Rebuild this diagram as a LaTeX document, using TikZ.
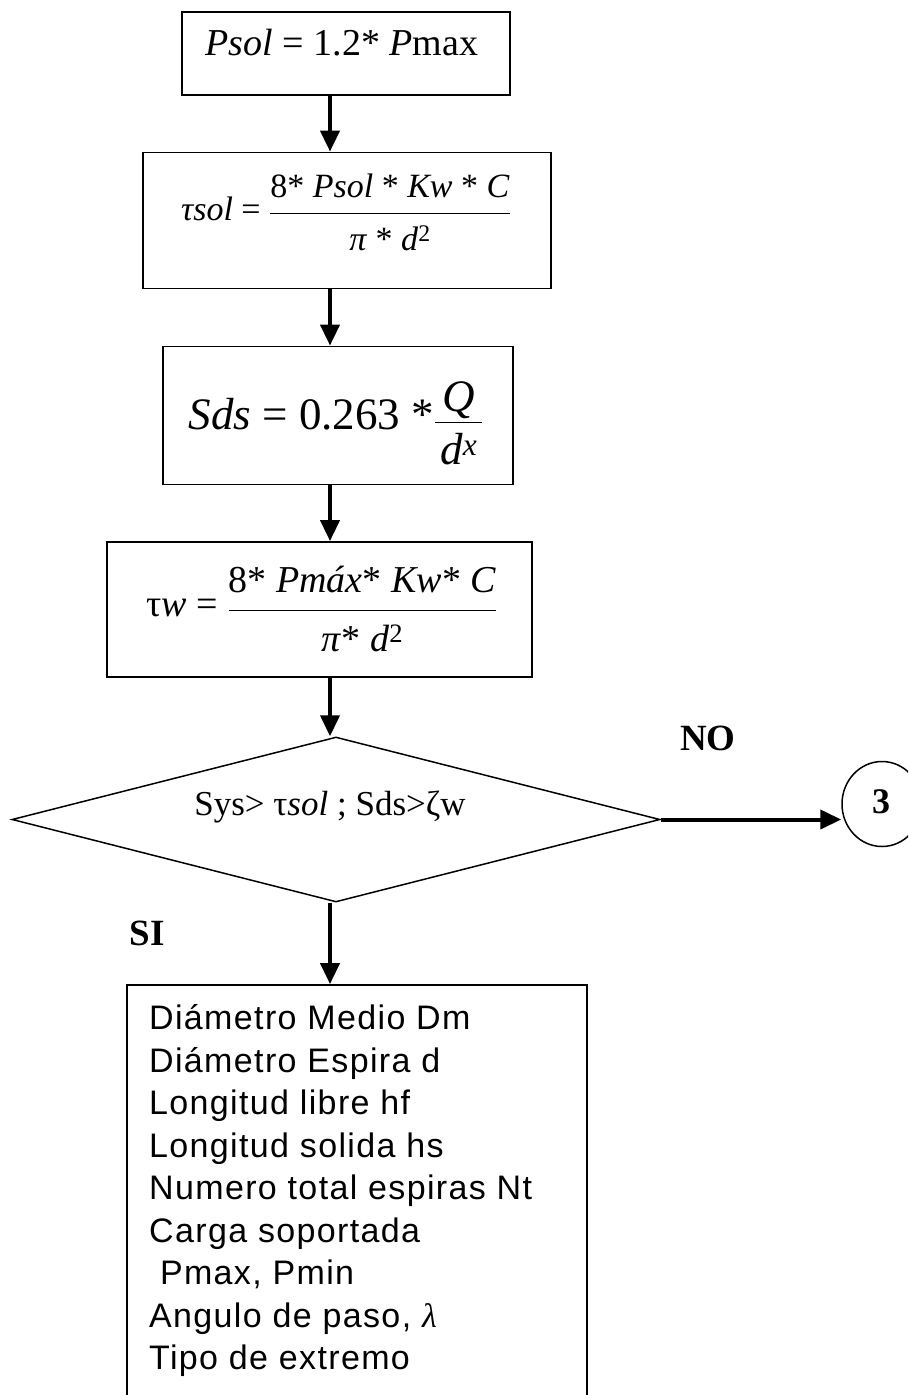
\documentclass[tikz,border=0pt]{standalone}
\usepackage{amsmath}
\usepackage{fontspec}
\setmainfont{Liberation Serif}
\newfontfamily\arialf[LetterSpace=4]{Liberation Sans}
\usetikzlibrary{shapes.geometric,arrows.meta}
\begin{document}
\begin{tikzpicture}[x=1pt,y=-1pt,
  procbox/.style={draw,line width=1.8pt,inner sep=0pt},
  eqtext/.style={anchor=base,inner sep=0pt},
  decision/.style={draw,diamond,line width=1.5pt,inner sep=0pt},
  connector/.style={draw,ellipse,line width=1.5pt,inner sep=0pt},
  lbl/.style={anchor=base,inner sep=0pt,font=\fontsize{37}{40}\selectfont\bfseries},
  arr/.style={line width=4pt,-{Triangle[length=21pt,width=19pt]}}]
\path[use as bounding box,clip] (0,0) rectangle (908,1395);
\coordinate (ax) at (330,0);
% boxes
\node[procbox,minimum width=328pt,minimum height=83pt] (b1) at (346,53.5) {};
\node[procbox,minimum width=408pt,minimum height=136pt] (b2) at (347,220.5) {};
\node[procbox,minimum width=350pt,minimum height=138pt] (b3) at (338,415.5) {};
\node[procbox,minimum width=425pt,minimum height=135pt] (b4) at (319.5,609.5) {};
\node[decision,minimum width=648pt,minimum height=165pt] (d) at (336,819.5) {};
\node[connector,minimum width=80pt,minimum height=85pt] (c3) at (882,804) {};
\node[procbox,minimum width=460pt,minimum height=520pt] (b5) at (357,1245) {};
% texts
\node[eqtext,font=\fontsize{38}{44}\selectfont] (t1) at (342,55)
  {\textit{Psol} = 1.2* \textit{P}max};
\node[eqtext,font=\fontsize{34}{40}\selectfont] (t2) at (346,220)
  {\textit{τsol} = $\dfrac{\text{8* \textit{Psol} * \textit{Kw} * \textit{C}\rule[-13pt]{0pt}{13pt}}}{\text{\rule{0pt}{33pt}\textit{π} * \textit{d}\textsuperscript{2}}}$};
\node[eqtext,font=\fontsize{45}{50}\selectfont] (t3) at (336,429)
  {\textit{Sds} = 0.263 *$\dfrac{\text{\hspace{7pt}\textit{Q}\rule[-8pt]{0pt}{8pt}\hspace{7pt}}}{\text{\rule{0pt}{38pt}\textit{d}\textsuperscript{\textit{x}}}}$};
\node[eqtext,font=\fontsize{38}{44}\selectfont] (t4) at (322,616.5)
  {τ\textit{w} = $\dfrac{\text{8* \textit{Pmáx}* \textit{Kw}* \textit{C}\rule[-14.5pt]{0pt}{14.5pt}}}{\text{\rule{0pt}{37.5pt}\textit{π}* \textit{d}\textsuperscript{2}}}$};
\node[eqtext,font=\fontsize{35}{40}\selectfont] (td) at (330,815)
  {Sys> τ\textit{sol} ; Sds>ζw};
\node[lbl] (no) at (708,750) {NO};
\node[lbl] (si) at (147,945) {SI};
\node[inner sep=0pt,font=\fontsize{36}{40}\selectfont\bfseries] (n3) at (881,802) {3};
\node[anchor=north west,inner sep=0pt,align=left,
      font=\arialf\fontsize{34}{42.5}\selectfont] (t5) at (149,1004.5)
  {Diámetro Medio Dm\\
   Diámetro Espira d\\
   Longitud libre hf\\
   Longitud solida hs\\
   Numero total espiras Nt\\
   Carga soportada\\
   \ Pmax, Pmin\\
   Angulo de paso, {\rmfamily\itshape λ}\\
   Tipo de extremo};
% connectors
\draw[arr] (b1.south -| ax) -- (b2.north -| ax);
\draw[arr] (b2.south -| ax) -- (b3.north -| ax);
\draw[arr] (b3.south -| ax) -- (b4.north -| ax);
\draw[arr] (b4.south -| ax) -- (d.north -| ax);
\draw[arr] (d.south -| ax) -- (b5.north -| ax);
\draw[arr] (d.east) -- (d.east -| c3.west);
\end{tikzpicture}
\end{document}
